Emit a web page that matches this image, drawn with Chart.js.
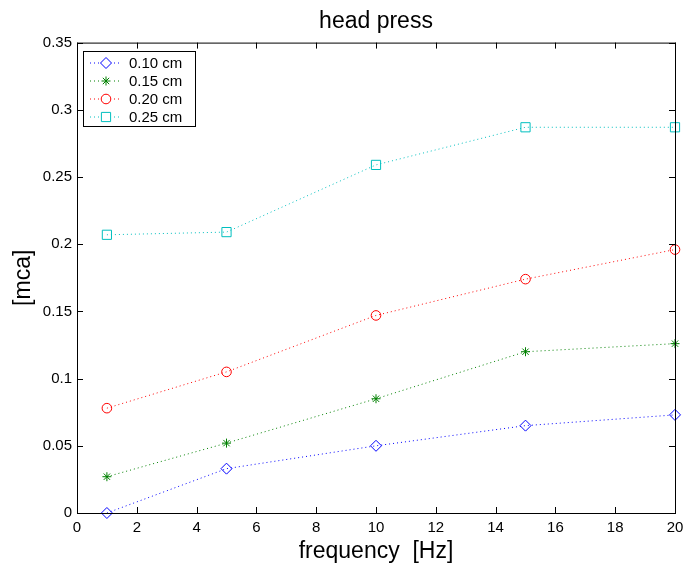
<!DOCTYPE html>
<html>
<head>
    <title>head press</title>
    <script src="https://cdn.jsdelivr.net/npm/chart.js"></script>
    <style>
        body { margin: 0; background: #fff; }
        #wrap { width: 683px; height: 566px; }
    </style>
</head>
<body>
    <div id="wrap">
        <canvas id="headChart" width="683" height="566"></canvas>
    </div>

    <script>
    // data
    const freq = [1, 5, 10, 15, 20];
    const labels = ['0.10 cm', '0.15 cm', '0.20 cm', '0.25 cm'];
    const h010 = [0.000, 0.033, 0.050, 0.065, 0.073];
    const h015 = [0.027, 0.052, 0.085, 0.120, 0.126];
    const h020 = [0.078, 0.105, 0.147, 0.174, 0.196];
    const h025 = [0.207, 0.209, 0.259, 0.287, 0.287];
    const xTicks = [0, 2, 4, 6, 8, 10, 12, 14, 16, 18, 20];
    const yTicks = [0, 0.05, 0.1, 0.15, 0.2, 0.25, 0.3, 0.35];

    const colors = ['#0000ff', '#008000', '#ff0000', '#00bfbf'];
    const styles = ['rectRot', 'star', 'circle', 'rect'];
    const radii = [5.5, 4.5, 4.8, 6.5];
    const series = [h010, h015, h020, h025];

    const FONT = "'Liberation Sans', Arial, sans-serif";

    function makeDataset(i) {
        return {
            label: labels[i],
            data: freq.map((f, k) => ({ x: f, y: series[i][k] })),
            borderColor: colors[i],
            backgroundColor: 'transparent',
            borderWidth: 1,
            borderDash: [1, 3],
            pointStyle: styles[i],
            pointRadius: radii[i],
            pointBorderColor: colors[i],
            pointBackgroundColor: 'transparent',
            pointBorderWidth: 1,
            tension: 0,
            clip: false
        };
    }

    // frame, inward ticks on all sides, legend box inside the axes
    const framePlugin = {
        id: 'frame',
        afterDraw(chart) {
            const ctx = chart.ctx;
            const a = chart.chartArea;
            const xs = chart.scales.x, ys = chart.scales.y;
            ctx.save();
            ctx.strokeStyle = '#000';
            ctx.lineWidth = 1;
            ctx.strokeRect(a.left + 0.5, a.top + 0.5, a.right - a.left, a.bottom - a.top);
            ctx.beginPath();
            const L = 6;
            xTicks.forEach(v => {
                const px = Math.round(xs.getPixelForValue(v)) + 0.5;
                ctx.moveTo(px, a.bottom); ctx.lineTo(px, a.bottom - L);
                ctx.moveTo(px, a.top); ctx.lineTo(px, a.top + L);
            });
            yTicks.forEach(v => {
                const py = Math.round(ys.getPixelForValue(v)) + 0.5;
                ctx.moveTo(a.left, py); ctx.lineTo(a.left + L, py);
                ctx.moveTo(a.right, py); ctx.lineTo(a.right - L, py);
            });
            ctx.stroke();

            // legend
            const bx = 83.5, by = 51.5, bw = 112, bh = 75;
            ctx.fillStyle = '#fff';
            ctx.fillRect(bx, by, bw, bh);
            ctx.strokeRect(bx, by, bw, bh);
            chart.data.datasets.forEach((ds, i) => {
                const y = 63 + i * 18;
                ctx.strokeStyle = ds.borderColor;
                ctx.setLineDash([1, 3]);
                ctx.beginPath();
                ctx.moveTo(90, y); ctx.lineTo(122, y);
                ctx.stroke();
                ctx.setLineDash([]);
                ctx.fillStyle = '#fff';
                ctx.fillRect(99, y - 7, 14, 14);
                Chart.helpers.drawPoint(ctx, {
                    pointStyle: ds.pointStyle,
                    radius: ds.pointRadius,
                    borderWidth: 1,
                    rotation: 0
                }, 106, y);
                ctx.fillStyle = '#000';
                ctx.font = '15px ' + FONT;
                ctx.textBaseline = 'middle';
                ctx.fillText(ds.label, 129, y + 1);
            });
            ctx.restore();
        }
    };

    function createChart() {
        const canvas = document.getElementById('headChart');
        new Chart(canvas, {
            type: 'line',
            data: { datasets: [0, 1, 2, 3].map(makeDataset) },
            options: {
                responsive: false,
                animation: false,
                layout: { padding: { left: 0, right: 8, top: 0, bottom: 0 } },
                plugins: {
                    legend: { display: false },
                    tooltip: { enabled: false },
                    title: {
                        display: true,
                        text: 'head press',
                        fullSize: false,
                        color: '#000',
                        font: { family: FONT, size: 23, weight: 'normal' },
                        padding: { top: 8, bottom: 7 }
                    }
                },
                scales: {
                    x: {
                        type: 'linear',
                        min: 0, max: 20,
                        afterBuildTicks: s => { s.ticks = xTicks.map(v => ({ value: v })); },
                        afterFit: s => { s.height = 53; s.paddingLeft = 0; s.paddingRight = 0; },
                        grid: { display: false, drawTicks: false },
                        border: { display: false },
                        ticks: {
                            color: '#000',
                            padding: 6,
                            font: { family: FONT, size: 15 },
                            maxRotation: 0
                        },
                        title: {
                            display: true,
                            text: 'frequency  [Hz]',
                            color: '#000',
                            font: { family: FONT, size: 23 },
                            padding: { top: 0, bottom: 1 }
                        }
                    },
                    y: {
                        type: 'linear',
                        min: 0, max: 0.35,
                        afterBuildTicks: s => { s.ticks = yTicks.map(v => ({ value: v })); },
                        afterFit: s => { s.width = 77; },
                        grid: { display: false, drawTicks: false },
                        border: { display: false },
                        ticks: {
                            color: '#000',
                            padding: 5,
                            font: { family: FONT, size: 15 },
                            callback: v => String(+v.toFixed(2))
                        },
                        title: {
                            display: true,
                            text: '[mca]',
                            color: '#000',
                            font: { family: FONT, size: 23 },
                            padding: { top: 10, bottom: 0 }
                        }
                    }
                }
            },
            plugins: [framePlugin]
        });
    }

    window.onload = () => {
        createChart();
    };
    </script>
</body>
</html>
